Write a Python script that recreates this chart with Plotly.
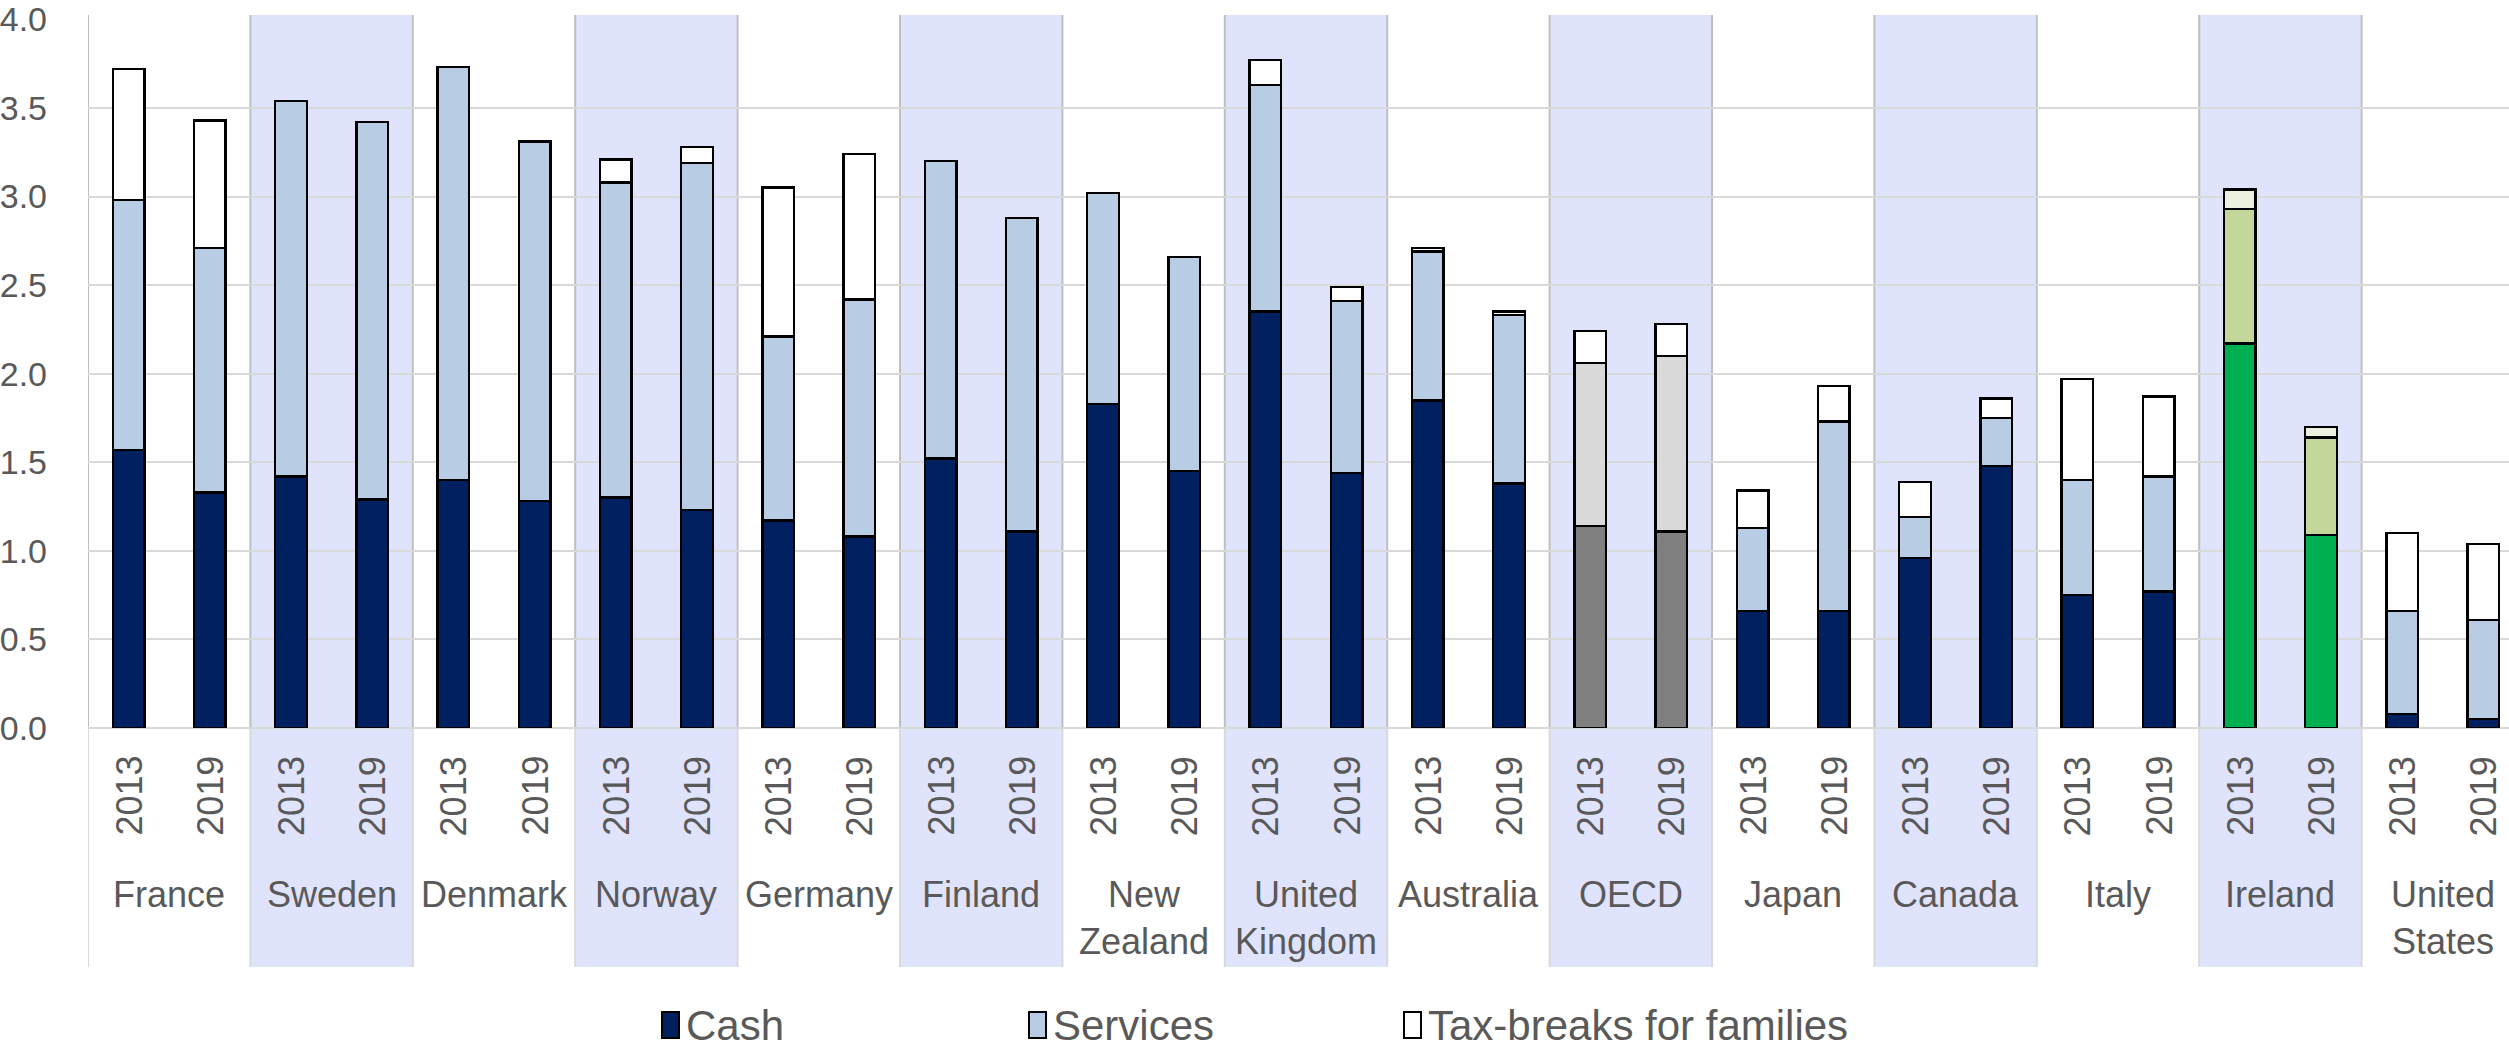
import plotly.graph_objects as go

# Public spending on family benefits, % of GDP, by type of support
countries = ["France", "Sweden", "Denmark", "Norway", "Germany", "Finland",
             "New Zealand", "United Kingdom", "Australia", "OECD", "Japan",
             "Canada", "Italy", "Ireland", "United States"]
years = ["2013", "2019"]

cash = [1.57, 1.33, 1.42, 1.29, 1.40, 1.28, 1.30, 1.23, 1.17, 1.08,
        1.52, 1.11, 1.83, 1.45, 2.35, 1.44, 1.85, 1.38, 1.14, 1.11,
        0.66, 0.66, 0.96, 1.48, 0.75, 0.77, 2.17, 1.09, 0.08, 0.05]
services = [1.41, 1.38, 2.12, 2.13, 2.33, 2.03, 1.78, 1.96, 1.04, 1.34,
            1.68, 1.77, 1.19, 1.21, 1.28, 0.97, 0.84, 0.95, 0.92, 0.99,
            0.47, 1.07, 0.23, 0.27, 0.65, 0.65, 0.76, 0.55, 0.58, 0.56]
tax_breaks = [0.74, 0.72, 0.0, 0.0, 0.0, 0.0, 0.13, 0.09, 0.84, 0.82,
              0.0, 0.0, 0.0, 0.0, 0.14, 0.08, 0.02, 0.02, 0.18, 0.18,
              0.21, 0.20, 0.20, 0.11, 0.57, 0.45, 0.11, 0.06, 0.44, 0.43]

series_names = ["Cash", "Services", "Tax-breaks for families"]
y_ticks = [0.0, 0.5, 1.0, 1.5, 2.0, 2.5, 3.0, 3.5, 4.0]

# colour sets: regular countries, OECD average, Ireland
palette = {
    "default": ["#002060", "#B8CCE4", "#FFFFFF"],
    "OECD": ["#808080", "#D9D9D9", "#FFFFFF"],
    "Ireland": ["#00B050", "#C4D79B", "#EBF1DE"],
}

FONT = "Liberation Sans, Arial, sans-serif"
TXT = "#595959"
W, H = 2509, 1051
ML, MT, MB = 88, 19, 323
plot_h = H - MT - MB
cat_px = 81.2  # width of one year slot in pixels


def py(px):
    """pixel row -> paper y"""
    return (H - MB - px) / plot_h


def px_x(px):
    """pixel column -> paper x"""
    return (px - ML) / (W - ML)


n_years = len(years)
x_pos = [g * n_years + j for g in range(len(countries)) for j in range(n_years)]
bar_country = [c for c in countries for _ in years]
bar_year = [y for _ in countries for y in years]

fig = go.Figure()
for k, (name, vals) in enumerate(zip(series_names, [cash, services, tax_breaks])):
    colors = [palette.get(c, palette["default"])[k] for c in bar_country]
    fig.add_trace(go.Bar(
        x=x_pos, y=vals, name=name, width=0.39,
        marker=dict(color=colors, line=dict(color="#000000", width=2.5)),
        showlegend=False,
        customdata=[[c, y] for c, y in zip(bar_country, bar_year)],
        hovertemplate="%{customdata[0]} %{customdata[1]}<br>" + name + ": %{y:.2f}<extra></extra>",
    ))

shapes = []
annotations = []
top_y = py(15)
bot_y = py(967)

# alternating group bands and group separators
for g in range(len(countries) + 1):
    x0 = g * n_years - 0.5
    if g < len(countries) and g % 2 == 1:
        shapes.append(dict(type="rect", xref="x", yref="paper", x0=x0, x1=x0 + n_years,
                           y0=bot_y, y1=top_y, fillcolor="#E0E3FC",
                           line=dict(width=0), layer="below"))
    shapes.append(dict(type="line", xref="x", yref="paper", x0=x0, x1=x0, y0=0, y1=top_y,
                       line=dict(color="#BFBFBF", width=2), layer="between"))
    shapes.append(dict(type="line", xref="x", yref="paper", x0=x0, x1=x0, y0=bot_y, y1=0,
                       line=dict(color="#D9D9D9", width=2), layer="between"))

# year labels
for x, yr in zip(x_pos, bar_year):
    annotations.append(dict(x=x, y=py(796), xref="x", yref="paper", text=yr,
                            textangle=-90, showarrow=False, xanchor="center",
                            yanchor="middle", font=dict(family=FONT, size=36, color=TXT)))

# country labels
for g, c in enumerate(countries):
    annotations.append(dict(x=g * n_years + 0.5, y=py(872), xref="x", yref="paper",
                            text=c.replace(" ", "<br>"), showarrow=False,
                            xanchor="center", yanchor="top", align="center",
                            font=dict(family=FONT, size=36, color=TXT)))

# legend
legend_x = [662, 1029, 1404]
leg_c = 1025
for k, (name, lx) in enumerate(zip(series_names, legend_x)):
    shapes.append(dict(type="rect", xref="paper", yref="paper",
                       x0=px_x(lx), x1=px_x(lx + 17), y0=py(leg_c + 13), y1=py(leg_c - 13),
                       fillcolor=palette["default"][k], line=dict(color="#000000", width=2)))
    annotations.append(dict(x=px_x(lx + 22), y=py(leg_c), xref="paper", yref="paper",
                            text=name, showarrow=False, xanchor="left", yanchor="middle",
                            font=dict(family=FONT, size=42, color=TXT)))

fig.update_layout(
    width=W, height=H,
    margin=dict(l=ML, r=0, t=MT, b=MB, pad=0),
    barmode="stack",
    paper_bgcolor="white", plot_bgcolor="white",
    shapes=shapes, annotations=annotations,
    xaxis=dict(range=[-0.5, -0.5 + (W - ML) / cat_px], showticklabels=False,
               showgrid=False, zeroline=False, showline=False, fixedrange=True),
    yaxis=dict(range=[0, 4.002], tickmode="array", tickvals=y_ticks,
               ticktext=[f"{v:.1f}" for v in y_ticks], showgrid=True,
               gridcolor="#D9D9D9", gridwidth=2, zeroline=True, zerolinecolor="#D9D9D9",
               zerolinewidth=2, showline=False, ticks="", ticklabelstandoff=40,
               tickfont=dict(family=FONT, size=34, color=TXT)),
    showlegend=False,
)

fig.write_html("out.html")
